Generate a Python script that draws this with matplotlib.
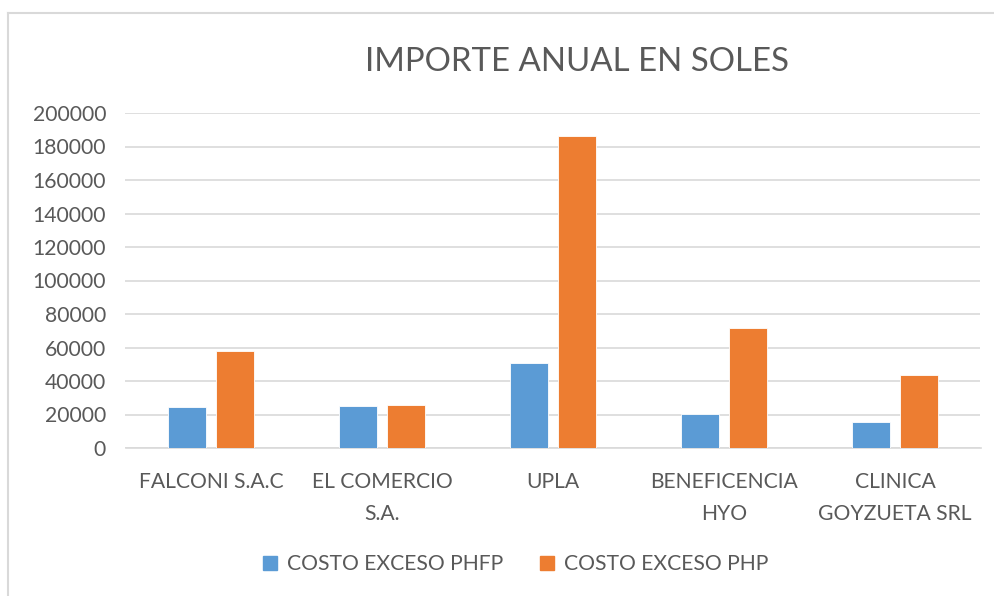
import matplotlib
matplotlib.use("Agg")
import matplotlib.pyplot as plt
from matplotlib.lines import Line2D
import numpy as np

categories = ["FALCONI S.A.C", "EL COMERCIO\nS.A.", "UPLA", "BENEFICENCIA\nHYO", "CLINICA\nGOYZUETA SRL"]
phfp = [24400, 25200, 50900, 20500, 15700]
php = [58100, 25900, 186500, 71500, 43400]
yticks = [0, 20000, 40000, 60000, 80000, 100000, 120000, 140000, 160000, 180000, 200000]
series_names = ["COSTO EXCESO PHFP", "COSTO EXCESO PHP"]

plt.rcParams['font.family'] = ['Lato', 'DejaVu Sans']
TXT = "#595959"
GRID = "#D9D9D9"

fig = plt.figure(figsize=(9.95, 5.96), dpi=100)
ax = fig.add_axes([125.5/995, 148/596, 855/995, 335/596])

x = np.arange(len(categories))
w = 0.222
off = 0.142
ax.bar(x - off, phfp, w, color="#5B9BD5", edgecolor="white", linewidth=0.6, label=series_names[0], zorder=3)
ax.bar(x + off, php, w, color="#ED7D31", edgecolor="white", linewidth=0.6, label=series_names[1], zorder=3)

ax.set_xlim(-0.5, len(categories) - 0.5)
ax.set_ylim(0, 200000)
ax.set_yticks(yticks)
ax.set_yticklabels([str(v) for v in yticks], color=TXT, fontsize=15.2)
ax.set_xticks(x)
ax.set_xticklabels(categories, color=TXT, fontsize=15.2, linespacing=1.75, va="top")
ax.tick_params(axis="both", length=0)
ax.tick_params(axis="y", pad=14)
ax.tick_params(axis="x", pad=17)
ax.yaxis.grid(True, color=GRID, linewidth=1.2, zorder=0)
ax.set_axisbelow(True)
for s in ["top", "right", "left"]:
    ax.spines[s].set_visible(False)
ax.spines["bottom"].set_color(GRID)
ax.spines["bottom"].set_linewidth(1.2)

fig.text(577/995, 1 - 62/596, "IMPORTE ANUAL EN SOLES", ha="center", va="center",
         fontsize=23.8, color=TXT)

handles = [Line2D([], [], marker="s", linestyle="none", markersize=10, color="#5B9BD5"),
           Line2D([], [], marker="s", linestyle="none", markersize=10, color="#ED7D31")]
fig.legend(handles, series_names, loc="center", bbox_to_anchor=(514/995, 1 - 564/596),
           ncol=2, frameon=False, fontsize=15.2, labelcolor=TXT, handletextpad=0.3,
           columnspacing=1.6, handlelength=1.0)

# outer chart border (top and left visible)
fig.add_artist(Line2D([8/995, 1.0], [1 - 12.5/596, 1 - 12.5/596], transform=fig.transFigure, color="#D9D9D9", linewidth=1.5))
fig.add_artist(Line2D([8/995, 8/995], [0, 1 - 12.5/596], transform=fig.transFigure, color="#D9D9D9", linewidth=1.5))

fig.savefig("out.png", dpi=100)
